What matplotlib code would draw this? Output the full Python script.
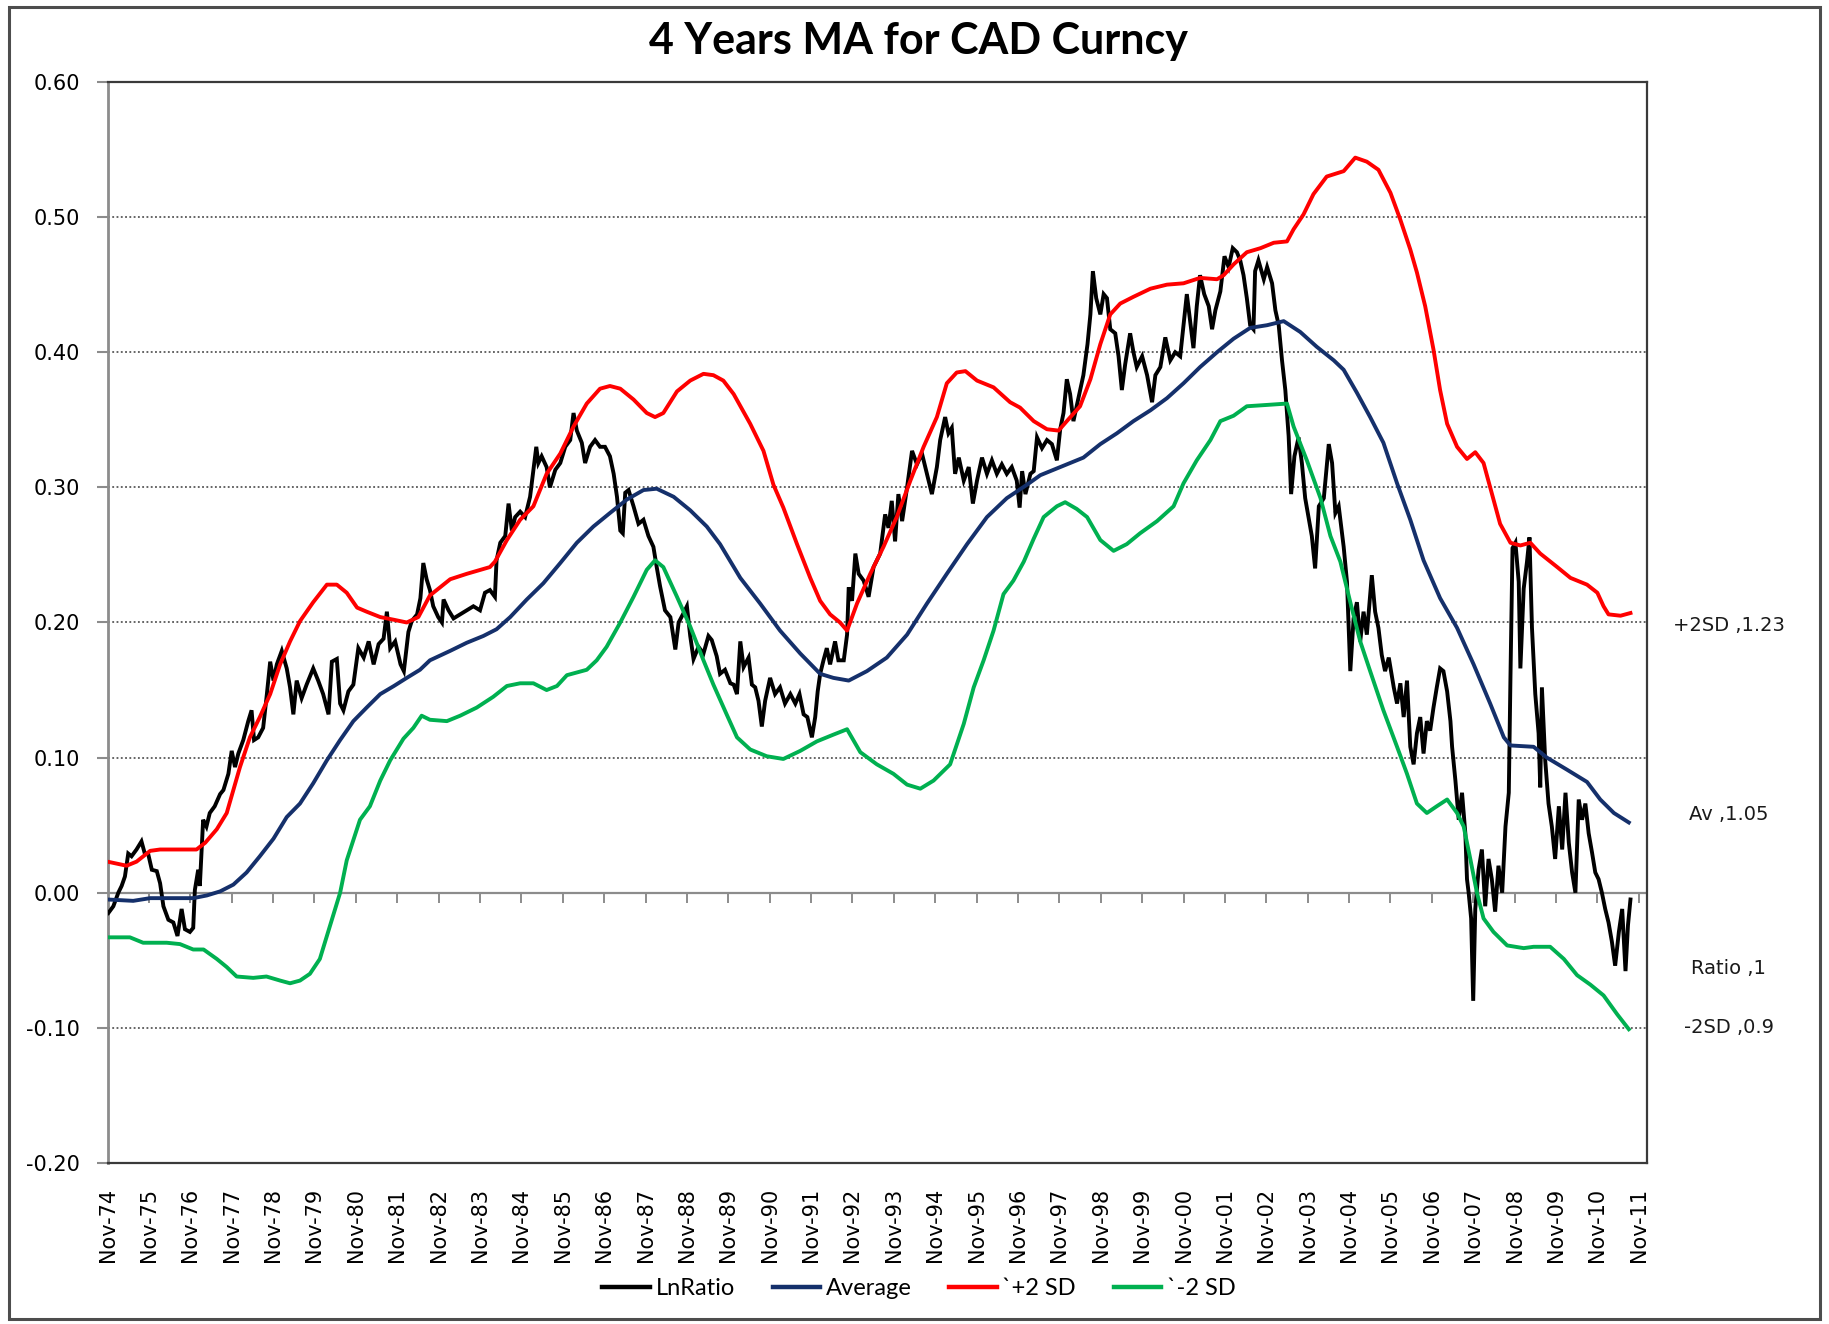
import matplotlib
matplotlib.use('Agg')
import matplotlib.pyplot as plt
import matplotlib.transforms as mtransforms
from matplotlib.patches import Rectangle
from matplotlib.lines import Line2D

# ---------------- data (x = years since Nov-74) ----------------
ln_t = [0.02, 0.14, 0.26, 0.34, 0.42, 0.50, 0.58, 0.70, 0.82, 0.90, 0.98, 1.07, 1.19, 1.27, 1.35, 1.47, 1.59,
        1.69, 1.79, 1.87, 1.99, 2.07, 2.11, 2.19, 2.23, 2.31, 2.39, 2.47, 2.59, 2.72, 2.80, 2.92, 3.00, 3.08,
        3.16, 3.28, 3.40, 3.48, 3.54, 3.64, 3.76, 3.85, 3.93, 4.01, 4.09, 4.21, 4.33, 4.41, 4.49, 4.57, 4.69,
        4.81, 4.97, 5.09, 5.21, 5.34, 5.42, 5.54, 5.62, 5.70, 5.82, 5.94, 6.06, 6.19, 6.31, 6.43, 6.55, 6.67,
        6.75, 6.83, 6.95, 7.08, 7.16, 7.27, 7.35, 7.48, 7.56,
        7.63, 7.71, 7.79, 7.87, 7.99, 8.08, 8.12, 8.24, 8.36, 8.52, 8.68, 8.84, 9.00, 9.12, 9.24, 9.36, 9.40,
        9.49, 9.61, 9.69, 9.77, 9.85, 9.97, 10.09, 10.21, 10.29, 10.36, 10.41, 10.49, 10.61, 10.69, 10.82,
        10.94, 11.06, 11.18, 11.26, 11.34, 11.46, 11.54, 11.66, 11.78, 11.90, 12.02, 12.14, 12.23, 12.31,
        12.39, 12.45, 12.51, 12.59, 12.71, 12.83, 12.95, 13.07, 13.19, 13.27, 13.35, 13.47, 13.60, 13.72,
        13.80, 13.92, 14.00, 14.08, 14.16, 14.28, 14.40, 14.52, 14.60, 14.72, 14.80, 14.92, 15.05,
        15.13, 15.21, 15.29, 15.37, 15.49, 15.57, 15.65, 15.73, 15.81, 15.89, 16.01, 16.13, 16.25, 16.37,
        16.50, 16.62, 16.72, 16.82, 16.91, 17.02, 17.10, 17.16, 17.22, 17.30, 17.38, 17.46, 17.58, 17.66,
        17.79, 17.87, 17.91, 17.99, 18.07, 18.15, 18.27, 18.39, 18.51, 18.67, 18.79, 18.87, 18.95, 19.03,
        19.11, 19.20, 19.32, 19.44, 19.56, 19.68, 19.80, 19.92, 20.04, 20.12, 20.24, 20.32, 20.40, 20.48,
        20.57, 20.69, 20.81, 20.91, 21.01, 21.13, 21.25, 21.37, 21.49, 21.61, 21.73, 21.85, 21.97, 22.04,
        22.10, 22.18, 22.30,
        22.38, 22.46, 22.58, 22.70, 22.82, 22.94, 23.02, 23.10, 23.18, 23.26, 23.34, 23.46, 23.58, 23.68,
        23.75, 23.81, 23.89, 23.99, 24.07, 24.15, 24.23, 24.35, 24.43, 24.51, 24.59, 24.71, 24.79, 24.87,
        25.00, 25.12, 25.24, 25.32, 25.44, 25.56, 25.68, 25.80, 25.92, 26.00, 26.08, 26.16, 26.24, 26.32,
        26.40, 26.50, 26.61, 26.69, 26.77, 26.89, 26.99, 27.09, 27.19, 27.29, 27.37, 27.45, 27.53, 27.61,
        27.69, 27.73, 27.81, 27.94, 28.02, 28.14, 28.22, 28.30, 28.38, 28.46, 28.54, 28.60, 28.68, 28.78,
        28.86, 28.94, 29.02, 29.10, 29.18, 29.27, 29.39, 29.51,
        29.59, 29.67, 29.75, 29.87, 29.95, 30.03, 30.11, 30.19, 30.27, 30.35, 30.43, 30.55, 30.63, 30.71,
        30.79, 30.87, 30.96, 31.08, 31.16, 31.24, 31.32, 31.40, 31.48, 31.56, 31.64, 31.72, 31.80, 31.88,
        31.96, 32.04, 32.12, 32.20, 32.28, 32.37, 32.45, 32.49, 32.57, 32.65, 32.73, 32.81, 32.85, 32.89,
        32.95, 33.00, 33.05, 33.13, 33.21, 33.29, 33.37, 33.45, 33.53, 33.61, 33.70, 33.78, 33.86, 33.90,
        33.95, 34.02, 34.10, 34.14, 34.22, 34.30, 34.36, 34.42, 34.50, 34.58, 34.62, 34.66, 34.74, 34.82,
        34.90, 34.98, 35.07, 35.15, 35.23, 35.31, 35.39, 35.47, 35.55, 35.63, 35.71, 35.79, 35.87, 35.95,
        36.03, 36.11, 36.19, 36.27, 36.35, 36.43, 36.52, 36.60, 36.68, 36.74, 36.80]
ln_v = [-0.015, -0.010, 0.000, 0.005, 0.012, 0.029, 0.027, 0.032, 0.038, 0.029, 0.029, 0.017, 0.016, 0.007,
        -0.010, -0.020, -0.022, -0.032, -0.012, -0.027, -0.029, -0.026, 0.002, 0.017, 0.005, 0.054, 0.049,
        0.059, 0.064, 0.073, 0.076, 0.088, 0.105, 0.093, 0.103, 0.113, 0.127, 0.135, 0.113, 0.115, 0.122,
        0.147, 0.171, 0.157, 0.169, 0.179, 0.166, 0.152, 0.132, 0.157, 0.144, 0.154, 0.166, 0.157, 0.147,
        0.132, 0.171, 0.173, 0.140, 0.135, 0.149, 0.154, 0.181, 0.174, 0.186, 0.169, 0.184, 0.188, 0.208,
        0.181, 0.186, 0.169, 0.164, 0.193, 0.201, 0.206, 0.218,
        0.244, 0.232, 0.224, 0.212, 0.204, 0.200, 0.217, 0.209, 0.203, 0.206, 0.209, 0.212, 0.209, 0.222,
        0.224, 0.219, 0.246, 0.259, 0.264, 0.288, 0.268, 0.278, 0.282, 0.278, 0.293, 0.313, 0.330, 0.318,
        0.323, 0.315, 0.300, 0.313, 0.318, 0.330, 0.335, 0.355, 0.342, 0.333, 0.318, 0.330, 0.335, 0.330,
        0.330, 0.323, 0.310, 0.293, 0.268, 0.266, 0.296, 0.298, 0.286, 0.273, 0.276, 0.264, 0.256, 0.241,
        0.227, 0.209, 0.204, 0.180, 0.200, 0.207, 0.212, 0.190, 0.173, 0.182, 0.177, 0.190, 0.187, 0.175,
        0.162, 0.165, 0.155,
        0.154, 0.147, 0.186, 0.167, 0.174, 0.154, 0.152, 0.142, 0.123, 0.142, 0.159, 0.147, 0.152, 0.140,
        0.147, 0.140, 0.147, 0.132, 0.130, 0.115, 0.130, 0.149, 0.162, 0.172, 0.181, 0.169, 0.186, 0.172,
        0.172, 0.191, 0.226, 0.216, 0.251, 0.236, 0.231, 0.219, 0.241, 0.251, 0.280, 0.270, 0.290, 0.260,
        0.295, 0.275, 0.300, 0.327, 0.317, 0.325, 0.310, 0.295, 0.315, 0.335, 0.352, 0.340, 0.344, 0.310,
        0.322, 0.305, 0.315, 0.288, 0.305, 0.322, 0.310, 0.320, 0.310, 0.317, 0.310, 0.315, 0.305, 0.285,
        0.312, 0.295, 0.310,
        0.312, 0.337, 0.329, 0.335, 0.332, 0.320, 0.343, 0.355, 0.380, 0.369, 0.349, 0.366, 0.383, 0.406,
        0.428, 0.460, 0.440, 0.428, 0.443, 0.440, 0.417, 0.414, 0.397, 0.372, 0.391, 0.414, 0.400, 0.389,
        0.397, 0.383, 0.363, 0.383, 0.389, 0.411, 0.394, 0.400, 0.397, 0.420, 0.443, 0.423, 0.403, 0.434,
        0.457, 0.443, 0.434, 0.417, 0.431, 0.445, 0.471, 0.463, 0.477, 0.474, 0.468, 0.457, 0.440, 0.420,
        0.417, 0.460, 0.468, 0.454, 0.463, 0.451, 0.431, 0.420, 0.394, 0.372, 0.338, 0.295, 0.323, 0.337,
        0.318, 0.292, 0.278, 0.264, 0.240, 0.286, 0.292, 0.332,
        0.318, 0.281, 0.286, 0.256, 0.230, 0.164, 0.203, 0.215, 0.186, 0.208, 0.191, 0.235, 0.208, 0.196,
        0.176, 0.164, 0.174, 0.152, 0.140, 0.155, 0.130, 0.157, 0.108, 0.095, 0.118, 0.130, 0.103, 0.127,
        0.120, 0.137, 0.152, 0.166, 0.164, 0.149, 0.127, 0.108, 0.083, 0.054, 0.074, 0.044, 0.010, 0.000,
        -0.019, -0.080, -0.012, 0.017, 0.032, -0.010, 0.025, 0.010, -0.014, 0.020, 0.000, 0.049, 0.074, 0.159,
        0.255, 0.259, 0.230, 0.166, 0.225, 0.245, 0.263, 0.196, 0.147, 0.118, 0.078, 0.152, 0.098, 0.066,
        0.049, 0.025, 0.064, 0.032, 0.074, 0.037, 0.015, 0.000, 0.069, 0.054, 0.066, 0.044, 0.030, 0.015,
        0.010, 0.000, -0.012, -0.022, -0.036, -0.054, -0.029, -0.012, -0.058, -0.024, -0.005]

avg_t = [0, 0.62, 1.03, 2.07, 2.4, 2.72, 3.04, 3.36, 3.68, 4.01, 4.33, 4.65, 4.97, 5.3, 5.62, 5.94, 6.26,
         6.59, 6.92, 7.23, 7.55, 7.79, 8.28, 8.68, 9.08, 9.4, 9.73, 10.13, 10.53, 10.94, 11.34, 11.74,
         12.14, 12.55, 12.95, 13.27, 13.68, 14.08, 14.48, 14.8, 15.29, 15.77, 16.25, 16.74, 17.22, 17.54,
         17.91, 18.35, 18.83, 19.32, 19.8, 20.28, 20.77, 21.25, 21.73, 22.22, 22.54, 23.02, 23.58, 23.99,
         24.39, 24.79, 25.2, 25.6, 26.0, 26.4, 26.81, 27.21, 27.61, 28.02, 28.42, 28.82, 29.22, 29.63,
         29.87, 30.19, 30.51, 30.83, 31.16, 31.48, 31.8, 32.2, 32.61, 33.01, 33.41, 33.74, 33.9, 34.46,
         34.78, 35.27, 35.75, 36.07, 36.4, 36.76]
avg_v = [-0.005, -0.006, -0.004, -0.004, -0.002, 0.001, 0.006, 0.015, 0.027, 0.040, 0.056, 0.066, 0.081,
         0.098, 0.113, 0.127, 0.137, 0.147, 0.153, 0.159, 0.165, 0.172, 0.179, 0.185, 0.190, 0.195, 0.204,
         0.217, 0.229, 0.244, 0.259, 0.271, 0.281, 0.291, 0.298, 0.299, 0.293, 0.283, 0.271, 0.258, 0.233,
         0.214, 0.194, 0.177, 0.162, 0.159, 0.157, 0.164, 0.174, 0.191, 0.214, 0.236, 0.258, 0.278, 0.292,
         0.302, 0.309, 0.315, 0.322, 0.332, 0.340, 0.349, 0.357, 0.366, 0.377, 0.389, 0.400, 0.410, 0.418,
         0.420, 0.423, 0.415, 0.404, 0.394, 0.387, 0.370, 0.352, 0.333, 0.303, 0.276, 0.246, 0.218, 0.196,
         0.169, 0.140, 0.115, 0.109, 0.108, 0.100, 0.091, 0.082, 0.069, 0.059, 0.052]

up_t = [0, 0.46, 0.7, 1.03, 1.27, 2.15, 2.36, 2.64, 2.88, 3.04, 3.2, 3.44, 3.68, 3.93, 4.17, 4.41, 4.65,
        4.97, 5.3, 5.54, 5.78, 6.03, 6.26, 6.59, 6.92, 7.23, 7.51, 7.79, 8.28, 8.68, 9.24, 9.36, 9.65, 9.97,
        10.29, 10.61, 10.94, 11.26, 11.58, 11.9, 12.14, 12.39, 12.71, 13.03, 13.23, 13.43, 13.76, 14.08,
        14.4, 14.64, 14.88, 15.13, 15.53, 15.85, 16.09, 16.33, 16.66, 16.98, 17.22, 17.46, 17.7, 17.87,
        18.11, 18.43, 18.75, 19.07, 19.4, 19.72, 20.04, 20.28, 20.52, 20.73, 21.01, 21.41, 21.81, 22.05,
        22.38, 22.7, 22.98, 23.18, 23.5, 23.75, 23.99, 24.23, 24.47, 24.79, 25.2, 25.6, 26.0, 26.4, 26.81,
        26.97, 27.21, 27.53, 27.86, 28.18, 28.5, 28.66, 28.9, 29.14, 29.46, 29.87, 30.15, 30.43, 30.71,
        31.0, 31.24, 31.48, 31.64, 31.84, 32.04, 32.2, 32.37, 32.61, 32.85, 33.05, 33.25, 33.41, 33.65,
        33.9, 34.14, 34.38, 34.62, 35.03, 35.35, 35.75, 36.0, 36.15, 36.27, 36.56, 36.8]
up_v = [0.023, 0.020, 0.023, 0.031, 0.032, 0.032, 0.037, 0.047, 0.059, 0.076, 0.093, 0.115, 0.130, 0.147,
        0.169, 0.186, 0.201, 0.215, 0.228, 0.228, 0.222, 0.211, 0.208, 0.204, 0.202, 0.200, 0.204, 0.220,
        0.232, 0.236, 0.241, 0.245, 0.261, 0.276, 0.286, 0.310, 0.325, 0.345, 0.362, 0.373, 0.375, 0.373,
        0.365, 0.355, 0.352, 0.355, 0.371, 0.379, 0.384, 0.383, 0.379, 0.369, 0.347, 0.327, 0.302, 0.285,
        0.258, 0.233, 0.216, 0.206, 0.200, 0.194, 0.214, 0.236, 0.256, 0.278, 0.305, 0.330, 0.352, 0.377,
        0.385, 0.386, 0.379, 0.374, 0.363, 0.359, 0.349, 0.343, 0.342, 0.349, 0.360, 0.380, 0.406, 0.428,
        0.436, 0.441, 0.447, 0.450, 0.451, 0.455, 0.454, 0.457, 0.465, 0.474, 0.477, 0.481, 0.482, 0.491,
        0.502, 0.517, 0.530, 0.534, 0.544, 0.541, 0.535, 0.518, 0.498, 0.476, 0.459, 0.434, 0.402, 0.372,
        0.347, 0.330, 0.321, 0.326, 0.318, 0.300, 0.273, 0.259, 0.257, 0.259, 0.251, 0.241, 0.233, 0.228,
        0.222, 0.212, 0.206, 0.205, 0.207]

dn_t = [0, 0.54, 0.86, 1.43, 1.75, 2.07, 2.32, 2.64, 2.88, 3.12, 3.52, 3.84, 4.17, 4.41, 4.65, 4.89, 5.13,
        5.38, 5.62, 5.78, 5.94, 6.1, 6.34, 6.59, 6.83, 7.15, 7.39, 7.59, 7.79, 8.2, 8.52, 8.92, 9.32, 9.65,
        9.97, 10.29, 10.61, 10.86, 11.1, 11.58, 11.82, 12.06, 12.39, 12.71, 13.03, 13.23, 13.43, 13.76,
        14.08, 14.4, 14.64, 14.96, 15.21, 15.53, 15.93, 16.33, 16.74, 17.14, 17.54, 17.87, 18.19, 18.59,
        18.99, 19.32, 19.64, 19.96, 20.36, 20.69, 20.93, 21.17, 21.41, 21.65, 21.89, 22.14, 22.38, 22.62,
        22.94, 23.14, 23.42, 23.67, 23.99, 24.31, 24.63, 24.95, 25.36, 25.76, 26.0, 26.32, 26.65, 26.89,
        27.21, 27.53, 28.02, 28.5, 28.66, 28.98, 29.31, 29.55, 29.79, 30.03, 30.27, 30.51, 30.83, 31.16,
        31.4, 31.64, 31.88, 32.12, 32.37, 32.61, 32.77, 32.93, 33.09, 33.25, 33.49, 33.82, 34.22, 34.46,
        34.86, 35.19, 35.51, 35.83, 36.15, 36.48, 36.76]
dn_v = [-0.033, -0.033, -0.037, -0.037, -0.038, -0.042, -0.042, -0.049, -0.055, -0.062, -0.063, -0.062,
        -0.065, -0.067, -0.065, -0.060, -0.049, -0.024, 0.000, 0.024, 0.039, 0.054, 0.064, 0.083, 0.098,
        0.114, 0.122, 0.131, 0.128, 0.127, 0.131, 0.137, 0.145, 0.153, 0.155, 0.155, 0.150, 0.153, 0.161,
        0.165, 0.172, 0.182, 0.200, 0.219, 0.239, 0.246, 0.241, 0.219, 0.197, 0.172, 0.154, 0.132, 0.115,
        0.106, 0.101, 0.099, 0.105, 0.112, 0.117, 0.121, 0.104, 0.095, 0.088, 0.080, 0.077, 0.083, 0.095,
        0.125, 0.152, 0.172, 0.194, 0.221, 0.231, 0.245, 0.262, 0.278, 0.286, 0.289, 0.284, 0.278, 0.261,
        0.253, 0.258, 0.266, 0.275, 0.286, 0.303, 0.320, 0.335, 0.349, 0.353, 0.360, 0.361, 0.362, 0.345,
        0.320, 0.292, 0.264, 0.245, 0.215, 0.186, 0.164, 0.135, 0.108, 0.088, 0.066, 0.059, 0.064, 0.069,
        0.059, 0.049, 0.025, 0.000, -0.019, -0.029, -0.039, -0.041, -0.040, -0.040, -0.049, -0.061, -0.068,
        -0.076, -0.090, -0.101]

x_ticks = list(range(38))
x_labels = ['Nov-74', 'Nov-75', 'Nov-76', 'Nov-77', 'Nov-78', 'Nov-79', 'Nov-80', 'Nov-81', 'Nov-82',
            'Nov-83', 'Nov-84', 'Nov-85', 'Nov-86', 'Nov-87', 'Nov-88', 'Nov-89', 'Nov-90', 'Nov-91',
            'Nov-92', 'Nov-93', 'Nov-94', 'Nov-95', 'Nov-96', 'Nov-97', 'Nov-98', 'Nov-99', 'Nov-00',
            'Nov-01', 'Nov-02', 'Nov-03', 'Nov-04', 'Nov-05', 'Nov-06', 'Nov-07', 'Nov-08', 'Nov-09',
            'Nov-10', 'Nov-11']
y_ticks = [-0.2, -0.1, 0.0, 0.1, 0.2, 0.3, 0.4, 0.5, 0.6]
y_labels = ['-0.20', '-0.10', '0.00', '0.10', '0.20', '0.30', '0.40', '0.50', '0.60']
grid_levels = [-0.1, 0.1, 0.2, 0.3, 0.4, 0.5]

series_names = ['LnRatio', 'Average', '`+2 SD', '`-2 SD']
series_colors = ['#000000', '#15306B', '#FF0000', '#00B050']

side_texts = ['+2SD ,1.23', 'Av ,1.05', 'Ratio ,1', '-2SD ,0.9']
side_y = [0.198, 0.058, -0.056, -0.100]

# ---------------- figure ----------------
HUMAN = ['Lato', 'DejaVu Sans']
fig = plt.figure(figsize=(18.29, 13.24), dpi=100)
fig.patch.set_facecolor('white')
fig.patches.append(Rectangle((0.005, 0.004), 0.990, 0.991, transform=fig.transFigure,
                             fill=False, edgecolor='#4d4d4d', linewidth=2.2))

ax = fig.add_axes([0.0588, 0.1216, 0.8417, 0.8165])
ax.set_xlim(0, 37.2)
ax.set_ylim(-0.2, 0.6)

for g in grid_levels:
    ax.axhline(g, color='#3a3a3a', linewidth=1.1, linestyle=(0, (1.2, 1.6)), zorder=1)

ax.axhline(0, color='#8c8c8c', linewidth=1.6, zorder=1.5)
ax.vlines(x_ticks, -0.0075, 0, color='#8c8c8c', linewidth=1.4, zorder=1.5)

h1, = ax.plot(ln_t, ln_v, color=series_colors[0], linewidth=2.8, zorder=3, solid_joinstyle='miter')
h2, = ax.plot(avg_t, avg_v, color=series_colors[1], linewidth=2.8, zorder=4)
h3, = ax.plot(up_t, up_v, color=series_colors[2], linewidth=2.8, zorder=5)
h4, = ax.plot(dn_t, dn_v, color=series_colors[3], linewidth=2.8, zorder=6)

for side in ['top', 'right', 'bottom']:
    ax.spines[side].set_color('#3a3a3a')
    ax.spines[side].set_linewidth(1.6)
ax.spines['left'].set_color('#8c8c8c')
ax.spines['left'].set_linewidth(2.0)

ax.set_xticks(x_ticks)
ax.set_xticklabels(x_labels, rotation=90, fontsize=15, family='DejaVu Sans')
ax.tick_params(axis='x', length=0, pad=18)
ax.set_yticks(y_ticks)
ax.set_yticklabels(y_labels, fontsize=15, family='DejaVu Sans')
ax.tick_params(axis='y', length=8, width=1.5, color='#8c8c8c', pad=12, direction='out')

blend = mtransforms.blended_transform_factory(ax.transAxes, ax.transData)
for txt, yv in zip(side_texts, side_y):
    ax.text(1.053, yv, txt, transform=blend, ha='center', va='center', fontsize=14,
            color='#1a1a1a', family='DejaVu Sans', clip_on=False)

fig.text(0.502, 0.969, '4 Years MA for CAD Curncy', ha='center', va='center',
         fontsize=31, fontweight='bold', family=HUMAN)

handles = [Line2D([], [], color=c, linewidth=3.2) for c in series_colors]
fig.legend(handles, series_names, loc='center', bbox_to_anchor=(0.5025, 0.0265), ncol=4,
           frameon=False, prop={'family': HUMAN, 'size': 17}, handlelength=2.0,
           handletextpad=0.25, columnspacing=1.6)

fig.savefig('out.png', dpi=100, facecolor='white')
